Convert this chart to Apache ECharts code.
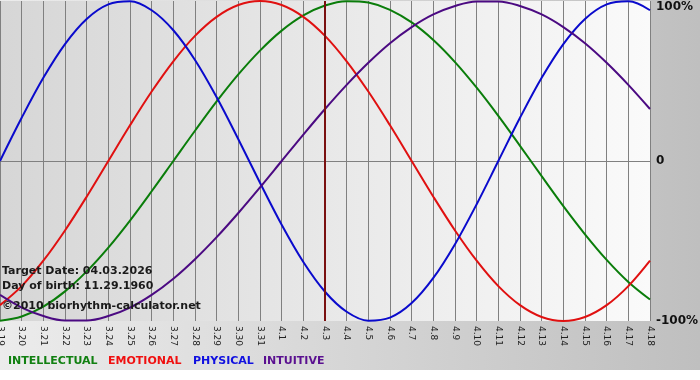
<!DOCTYPE html>
<html lang="en">
  <head>
    <meta charset="UTF-8" />
    <title>Biorhythm</title>
    <script src="https://cdn.jsdelivr.net/npm/echarts@6/dist/echarts.min.js"></script>
    <style>
      body { margin: 0; }
    </style>
  </head>

  <body>
    <div id="main" style="width: 700px; height: 380px"></div>

    <script type="text/javascript">
      // day labels (month.day)
      const days = [
        "3.19", "3.20", "3.21", "3.22", "3.23", "3.24", "3.25", "3.26", "3.27", "3.28",
        "3.29", "3.30", "3.31", "4.1", "4.2", "4.3", "4.4", "4.5", "4.6", "4.7",
        "4.8", "4.9", "4.10", "4.11", "4.12", "4.13", "4.14", "4.15", "4.16", "4.17", "4.18"
      ];

      // values, -1 .. 1
      const intellectual = [
        -0.999, -0.972, -0.91, -0.815, -0.69, -0.541, -0.372, -0.189, 0.0, 0.189,
        0.372, 0.541, 0.69, 0.815, 0.91, 0.972, 0.999, 0.99, 0.945, 0.866,
        0.756, 0.618, 0.458, 0.282, 0.095, -0.095, -0.282, -0.458, -0.618, -0.756, -0.866
      ];
      const emotional = [
        -0.901, -0.782, -0.623, -0.434, -0.223, 0.0, 0.223, 0.434, 0.623, 0.782,
        0.901, 0.975, 1.0, 0.975, 0.901, 0.782, 0.623, 0.434, 0.223, 0.0,
        -0.223, -0.434, -0.623, -0.782, -0.901, -0.975, -1.0, -0.975, -0.901, -0.782, -0.623
      ];
      const physical = [
        0.0, 0.27, 0.52, 0.731, 0.888, 0.979, 0.998, 0.942, 0.817, 0.631,
        0.398, 0.136, -0.136, -0.398, -0.631, -0.817, -0.942, -0.998, -0.979, -0.888,
        -0.731, -0.52, -0.27, 0.0, 0.27, 0.52, 0.731, 0.888, 0.979, 0.998, 0.942
      ];
      const intuitive = [
        -0.837, -0.916, -0.969, -0.997, -0.997, -0.969, -0.916, -0.837, -0.736, -0.614,
        -0.476, -0.325, -0.165, 0.0, 0.165, 0.325, 0.476, 0.614, 0.736, 0.837,
        0.916, 0.969, 0.997, 0.997, 0.969, 0.916, 0.837, 0.736, 0.614, 0.476, 0.325
      ];

      const targetDay = "4.3";
      const yLabels = { "1": "100%", "0": "0", "-1": "-100%" };

      const font = "DejaVu Sans, Verdana, sans-serif";

      let myChart = echarts.init(document.getElementById("main"));

      function curve(name, data, color) {
        return {
          name: name,
          type: "line",
          data: data,
          smooth: 0.35,
          symbol: "none",
          lineStyle: { color: color, width: 2 },
          itemStyle: { color: color },
        };
      }

      const series = [
        curve("INTELLECTUAL", intellectual, "#0a7d0a"),
        curve("EMOTIONAL", emotional, "#e01010"),
        curve("PHYSICAL", physical, "#0a0acc"),
        curve("INTUITIVE", intuitive, "#4b0a82"),
      ];
      // today marker
      series[0].markLine = {
        silent: true,
        symbol: "none",
        label: { show: false },
        lineStyle: { color: "#7a1010", width: 2, type: "solid" },
        data: [{ xAxis: targetDay }],
      };

      let options = {
        animation: false,
        backgroundColor: new echarts.graphic.LinearGradient(0, 0, 1, 0, [
          { offset: 0, color: "#ececec" },
          { offset: 1, color: "#bfbfbf" },
        ]),
        grid: {
          left: 0,
          right: 50,
          top: 1,
          bottom: 59,
          outerBoundsMode: "none",
          containLabel: false,
          show: true,
          borderWidth: 0,
          backgroundColor: new echarts.graphic.LinearGradient(0, 0, 1, 0, [
            { offset: 0, color: "#d6d6d6" },
            { offset: 1, color: "#fafafa" },
          ]),
        },
        xAxis: {
          type: "category",
          data: days,
          boundaryGap: false,
          axisLine: { lineStyle: { color: "#808080", width: 1 } },
          axisTick: { show: false },
          axisLabel: {
            rotate: -90,
            interval: 0,
            margin: 5,
            fontFamily: font,
            fontSize: 9,
            color: "#222",
            showMinLabel: true,
            showMaxLabel: true,
          },
          splitLine: {
            show: true,
            interval: 0,
            lineStyle: { color: "#808080", width: 1 },
          },
        },
        yAxis: {
          type: "value",
          position: "right",
          min: -1,
          max: 1,
          interval: 1,
          axisLine: { show: false },
          axisTick: { show: false },
          axisLabel: {
            margin: 6,
            fontFamily: font,
            fontSize: 12,
            fontWeight: "bold",
            color: "#111",
            verticalAlignMaxLabel: "top",
            formatter: (v) => yLabels[String(v)],
          },
          splitLine: {
            show: true,
            showMinLine: false,
            showMaxLine: false,
            lineStyle: { color: "#808080", width: 1 },
          },
        },
        series: series,
        graphic: [
          {
            type: "rect",
            z: 0,
            shape: { x: 0, y: 370, width: 700, height: 10 },
            style: { fill: "#ffffff" },
          },
          { type: "text", x: 2, y: 271, z: 100, style: { text: "Target Date: 04.03.2026", font: "bold 11px " + font, fill: "#1a1a1a", verticalAlign: "middle" } },
          { type: "text", x: 2, y: 286, z: 100, style: { text: "Day of birth: 11.29.1960", font: "bold 11px " + font, fill: "#1a1a1a", verticalAlign: "middle" } },
          { type: "text", x: 2, y: 306, z: 100, style: { text: "©2010 biorhythm-calculator.net", font: "bold 11px " + font, fill: "#1a1a1a", verticalAlign: "middle" } },
          { type: "text", x: 8, y: 361, z: 100, style: { text: "INTELLECTUAL", font: "bold 11px " + font, fill: "#118011", verticalAlign: "middle" } },
          { type: "text", x: 108, y: 361, z: 100, style: { text: "EMOTIONAL", font: "bold 11px " + font, fill: "#f01010", verticalAlign: "middle" } },
          { type: "text", x: 193, y: 361, z: 100, style: { text: "PHYSICAL", font: "bold 11px " + font, fill: "#1010e0", verticalAlign: "middle" } },
          { type: "text", x: 263, y: 361, z: 100, style: { text: "INTUITIVE", font: "bold 11px " + font, fill: "#5a1090", verticalAlign: "middle" } },
        ],
      };

      myChart.setOption(options);
    </script>
  </body>
</html>
